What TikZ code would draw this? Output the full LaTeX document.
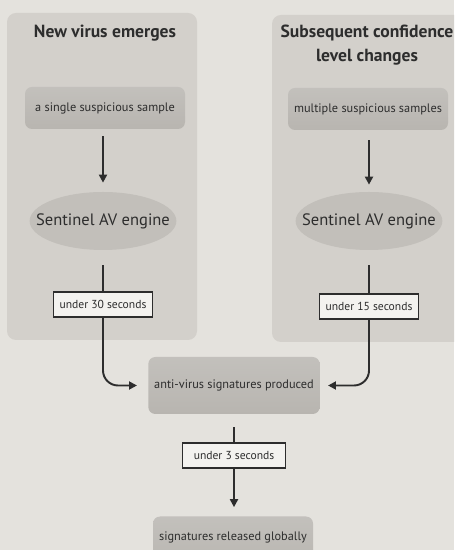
\documentclass[tikz,border=0pt]{standalone}
\usepackage{fontspec}
\setmainfont{PT Sans}
\usepackage{tikz}
\usetikzlibrary{
    arrows.meta,
    positioning,
    shapes.geometric
}
\definecolor{paper}{RGB}{228,226,221}
\definecolor{panelgray}{RGB}{211,208,203}
\definecolor{boxgray}{RGB}{184,181,176}
\definecolor{ellgray}{RGB}{194,191,186}
\definecolor{inkgray}{RGB}{45,45,45}
\definecolor{tagfill}{RGB}{243,242,239}

\begin{document}
\begin{tikzpicture}[
    panel/.style={fill=panelgray, rounded corners=0.18cm},
    sample/.style={rounded corners=0.14cm, top color=boxgray!85!white,
                   bottom color=boxgray, minimum width=3.2cm,
                   minimum height=0.84cm, font=\fontsize{7}{8}\selectfont,
                   text=inkgray},
    engine/.style={ellipse, fill=ellgray, inner xsep=-0.3cm, inner ysep=0pt,
                   minimum width=2.9cm, minimum height=1.16cm,
                   font=\fontsize{9.4}{11}\selectfont, text=inkgray},
    tag/.style={draw=inkgray, fill=tagfill, line width=0.7pt,
                minimum height=0.5cm, font=\fontsize{6.6}{8}\selectfont,
                text=inkgray},
    title/.style={font=\bfseries\fontsize{10}{13.5}\selectfont, text=inkgray,
                  align=center},
    flow/.style={draw=inkgray, line width=1.1pt,
                 -{Triangle[width=4.5pt,length=4.5pt]}},
    link/.style={draw=inkgray, line width=1.1pt}
]
    %% Background and panels
    \clip (0,0) rectangle (9.08,11);
    \fill[paper] (0,0) rectangle (9.08,11);
    \fill[panel] (0.14,4.2) rectangle (3.94,10.74);
    \fill[panel] (5.44,4.16) rectangle (9.3,10.7);

    %% Titles
    \node[title] (t0) at (2.10,10.34) {New virus emerges};
    \node[title] (t1) at (7.34,10.10) {Subsequent confidence\\level changes};

    %% Nodes
    \node[sample] (s0) at (2.10,8.84) {a single suspicious sample};
    \node[sample] (s1) at (7.36,8.82) {multiple suspicious samples};
    \node[engine] (e0) at (2.06,6.58) {Sentinel AV engine};
    \node[engine] (e1) at (7.38,6.58) {Sentinel AV engine};
    \node[tag, minimum width=1.92cm] (g0) at (2.06,4.91) {under 30 seconds};
    \node[tag, minimum width=1.96cm] (g1) at (7.38,4.87) {under 15 seconds};
    \node[sample, minimum width=3.36cm, minimum height=1.14cm]
          (avs) at (4.68,3.29) {anti-virus signatures produced};
    \node[tag, minimum width=2.06cm] (g2) at (4.68,1.89) {under 3 seconds};
    \node[sample, minimum height=1.1cm] (rel) at (4.66,0.12)
          {\raisebox{0.3cm}{signatures released globally}};

    %% Edges
    \draw[flow, shorten <=0.14cm, shorten >=0.18cm] (s0.south -| e0) -- (e0.north);
    \draw[flow, shorten <=0.2cm, shorten >=0.14cm] (s1.south -| e1) -- (e1.north);
    \draw[link, shorten <=0.3cm] (e0.south) -- (g0.north);
    \draw[link, shorten <=0.3cm] (e1.south) -- (g1.north);
    \draw[flow, rounded corners=0.3cm, shorten >=0.22cm] (g0.south) |- (avs.west);
    \draw[flow, rounded corners=0.3cm, shorten >=0.16cm] (g1.south) |- (avs.east);
    \draw[link, shorten <=0.26cm] (avs.south) -- (g2.north);
    \draw[flow, shorten >=0.18cm] (g2.south) -- (g2.south |- rel.north);
\end{tikzpicture}
\end{document}
